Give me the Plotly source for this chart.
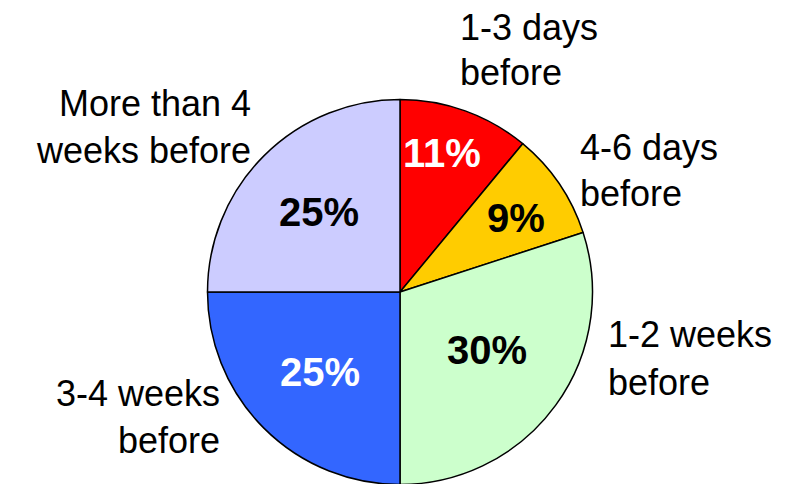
import plotly.graph_objects as go

# Data
categories = ["1-3 days before", "4-6 days before", "1-2 weeks before",
              "3-4 weeks before", "More than 4 weeks before"]
label_lines = [["1-3 days", "before"], ["4-6 days", "before"],
               ["1-2 weeks", "before"], ["3-4 weeks", "before"],
               ["More than 4", "weeks before"]]
values = [11, 9, 30, 25, 25]

# Styles
slice_colors = ["#FF0000", "#FFCC00", "#CCFFCC", "#3366FF", "#CCCCFF"]
pct_colors = ["white", "black", "black", "white", "black"]

W, H = 800, 484
OX, OY = 8, 8  # page body margin offset
FONT = "Liberation Sans"

# Annotation positions (screen pixels from top-left)
pct_pos = [(442, 153), (516, 218), (487, 350), (320, 372), (319, 212)]
# (x, first baseline, line step, align)
label_pos = [(459, 39, 46, "left"), (579, 160, 46, "left"),
             (607, 346, 48, "left"), (221, 405, 47, "right"),
             (252, 115, 47, "right")]

PIE_CX, PIE_CY, PIE_R = 400, 292, 192.5


def px(x, y):
    return (x - OX) / W, 1 - (y - OY) / H


dx0, dy1 = px(PIE_CX - PIE_R, PIE_CY - PIE_R)
dx1, dy0 = px(PIE_CX + PIE_R, PIE_CY + PIE_R)

fig = go.Figure(go.Pie(
    values=values,
    labels=categories,
    sort=False,
    direction="clockwise",
    rotation=0,
    marker=dict(colors=slice_colors, line=dict(color="black", width=1.5)),
    textinfo="none",
    hoverinfo="label+percent",
    domain=dict(x=[dx0, dx1], y=[max(dy0, 0), dy1]),
    showlegend=False,
))

annotations = []
for v, (x, y), c in zip(values, pct_pos, pct_colors):
    ax, ay = px(x, y)
    annotations.append(dict(
        x=ax, y=ay, xref="paper", yref="paper", text=f"<b>{v}%</b>",
        showarrow=False, xanchor="center", yanchor="middle",
        font=dict(family=FONT, size=40, color=c)))
for lines, (x, b, step, al) in zip(label_lines, label_pos):
    for i, line in enumerate(lines):
        ax, ay = px(x, b + i * step - 12)
        annotations.append(dict(
            x=ax, y=ay, xref="paper", yref="paper", text=line,
            showarrow=False, xanchor=al, yanchor="middle", align=al,
            borderpad=0,
            font=dict(family=FONT, size=36, color="black")))

fig.update_layout(
    width=W, height=H,
    margin=dict(l=0, r=0, t=0, b=0),
    paper_bgcolor="white",
    plot_bgcolor="white",
    annotations=annotations,
)

fig.write_html("out.html")
